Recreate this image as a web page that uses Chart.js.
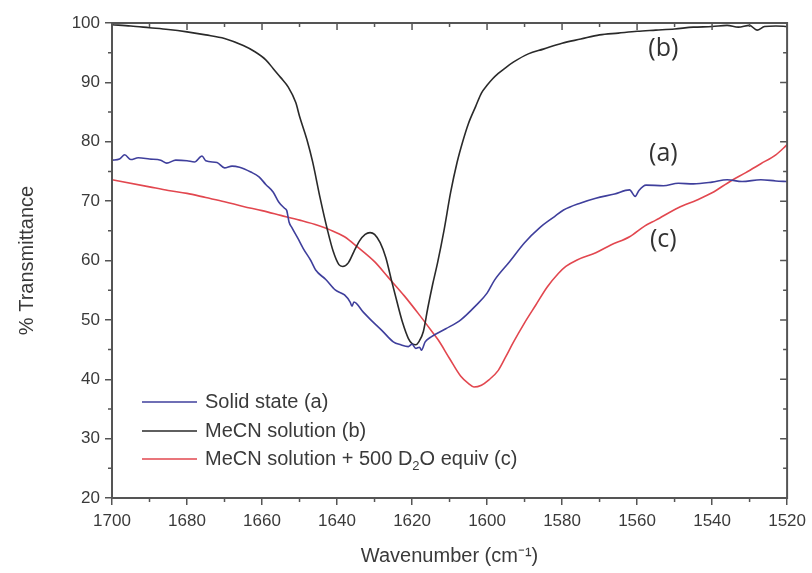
<!DOCTYPE html>
<html>
<head>
<meta charset="utf-8">
<script src="https://cdn.jsdelivr.net/npm/chart.js@4.4.1/dist/chart.umd.min.js"></script>
<style>
  html, body { margin: 0; padding: 0; background: #fff; }
  canvas { display: block; }
</style>
</head>
<body>
<canvas id="ir" width="812" height="573"></canvas>
<script>
// IR spectra, % transmittance vs wavenumber (cm-1)
const solidWave = [1700, 1698, 1696.6, 1695, 1693, 1690, 1687, 1685.4, 1683, 1680, 1678, 1676, 1675, 1672, 1670, 1668, 1666, 1663, 1660.8, 1659, 1657, 1655.5, 1654, 1653.4, 1652.8, 1652, 1650.5, 1649, 1647, 1645.7, 1643, 1640.4, 1638, 1636.5, 1636, 1635.5, 1633, 1631, 1628, 1625, 1623, 1621, 1620, 1619, 1618, 1617.5, 1616.5, 1615, 1611, 1607, 1603, 1600, 1598, 1594, 1590, 1586, 1582, 1579.6, 1575, 1571, 1566, 1562, 1560.5, 1559.5, 1557.6, 1553, 1549, 1545, 1540, 1536, 1532, 1527, 1523, 1520];
const solidT = [76.9, 77.1, 77.8, 77.0, 77.3, 77.1, 76.9, 76.4, 76.9, 76.8, 76.6, 77.6, 76.8, 76.5, 75.6, 75.9, 75.7, 74.9, 74.1, 72.8, 71.5, 69.8, 68.8, 68.4, 66.5, 65.5, 63.8, 62.0, 60.0, 58.4, 56.8, 55.0, 54.2, 53.0, 52.3, 53.0, 51.3, 50.0, 48.2, 46.3, 45.8, 45.5, 45.9, 45.2, 45.4, 44.9, 46.3, 47.1, 48.5, 50.0, 52.4, 54.5, 56.7, 59.8, 63.0, 65.5, 67.4, 68.5, 69.7, 70.5, 71.2, 71.9, 70.8, 71.8, 72.7, 72.6, 73.0, 72.9, 73.2, 73.6, 73.3, 73.6, 73.4, 73.3];

const mecnWave = [1700, 1695, 1690, 1685, 1680, 1675, 1670, 1665, 1662, 1659, 1657, 1655, 1653, 1651, 1650, 1648, 1646.5, 1644.5, 1642.5, 1641, 1639.5, 1638.5, 1637, 1635.5, 1634, 1632.5, 1631.2, 1630, 1628.5, 1627, 1625.5, 1624, 1622.5, 1621, 1620, 1619, 1618.2, 1617, 1615.8, 1614.5, 1613.2, 1611.5, 1609.7, 1608, 1606.5, 1605, 1603, 1601.5, 1600, 1598.5, 1597, 1595, 1593, 1589, 1585, 1580, 1575, 1570, 1565, 1560, 1555, 1550, 1545, 1540, 1536, 1533, 1530, 1528, 1526, 1523, 1520];
const mecnT = [99.7, 99.5, 99.2, 98.9, 98.5, 98.0, 97.4, 96.2, 95.2, 93.8, 92.3, 90.8, 89.2, 86.6, 84.3, 80.3, 76.6, 70.5, 65.0, 61.5, 59.3, 59.0, 59.6, 61.5, 63.3, 64.4, 64.7, 64.4, 63.0, 60.5, 56.7, 53.0, 49.5, 46.9, 46.0, 45.8, 46.3, 48.0, 52.0, 56.0, 59.6, 65.0, 71.5, 76.5, 80.0, 83.0, 86.0, 88.2, 89.5, 90.6, 91.5, 92.5, 93.4, 94.8, 95.6, 96.6, 97.3, 98.0, 98.3, 98.6, 98.8, 99.0, 99.3, 99.4, 99.6, 99.3, 99.6, 98.8, 99.4, 99.5, 99.4];

const d2oWave = [1700, 1690, 1685, 1680, 1675, 1670, 1665, 1660, 1655, 1650, 1645, 1642, 1638, 1634.4, 1630, 1626.4, 1622, 1618, 1615, 1613, 1610, 1607, 1605, 1603.5, 1601.5, 1599.5, 1597, 1595, 1593, 1590, 1587, 1584, 1581, 1579, 1576, 1571, 1567, 1562, 1558, 1555, 1549, 1544, 1540, 1535, 1531, 1527, 1523, 1520];
const d2oT = [73.6, 72.4, 71.8, 71.3, 70.6, 69.9, 69.1, 68.4, 67.6, 66.8, 65.9, 65.2, 64.0, 62.2, 59.8, 57.2, 54.0, 50.8, 48.3, 46.6, 43.5, 40.5, 39.3, 38.7, 39.0, 39.9, 41.5, 43.8, 46.2, 49.5, 52.5, 55.5, 57.8, 59.0, 60.1, 61.3, 62.6, 64.0, 65.8, 66.8, 68.9, 70.2, 71.4, 73.4, 74.8, 76.3, 77.8, 79.5];

const seriesNames = ['Solid state (a)', 'MeCN solution (b)', 'MeCN solution + 500 D\u2082O equiv (c)'];
const seriesColors = ['#3f3f9c', '#2a2a2a', '#e2474f'];

// curve tags written next to each trace: [text, wavenumber, %T]
const curveTags = [['(b)', 1553, 95.6], ['(a)', 1553, 78.0], ['(c)', 1553, 63.4]];

const xTicks = [1700, 1680, 1660, 1640, 1620, 1600, 1580, 1560, 1540, 1520];
const yTicks = [20, 30, 40, 50, 60, 70, 80, 90, 100];

function pts(xs, ys) {
  return xs.map((x, i) => ({ x: x, y: ys[i] }));
}

const axisColor = '#555';
const textColor = '#3a3a3a';

// minor ticks on all sides + mirrored major ticks on top and right, box frame
const frameTicks = {
  id: 'frameTicks',
  afterDraw(chart) {
    const ctx = chart.ctx;
    const a = chart.chartArea;
    const sx = chart.scales.x, sy = chart.scales.y;
    ctx.save();
    ctx.strokeStyle = axisColor;
    ctx.lineWidth = 1.5;
    ctx.beginPath();
    for (let v = 1520; v <= 1700; v += 10) {
      const px = sx.getPixelForValue(v);
      const len = (v % 20 === 0) ? 7 : 4;
      if (v % 20 !== 0) { ctx.moveTo(px, a.bottom); ctx.lineTo(px, a.bottom + len); }
      ctx.moveTo(px, a.top); ctx.lineTo(px, a.top + len);
    }
    for (let v = 20; v <= 100; v += 5) {
      const py = sy.getPixelForValue(v);
      const len = (v % 10 === 0) ? 7 : 4;
      if (v % 10 !== 0) { ctx.moveTo(a.left, py); ctx.lineTo(a.left - len, py); }
      ctx.moveTo(a.right, py); ctx.lineTo(a.right - len, py);
    }
    ctx.stroke();
    ctx.lineWidth = 2;
    ctx.strokeRect(a.left, a.top, a.right - a.left, a.bottom - a.top);
    ctx.restore();
  }
};

// legend inside the plot, with a real subscript in D2O
const innerLegend = {
  id: 'innerLegend',
  afterDraw(chart) {
    const ctx = chart.ctx;
    const a = chart.chartArea;
    const x0 = a.left + 30, x1 = a.left + 85, tx = a.left + 93;
    const rows = [a.bottom - 96, a.bottom - 67, a.bottom - 39];
    ctx.save();
    ctx.textBaseline = 'middle';
    ctx.fillStyle = textColor;
    seriesNames.forEach((name, i) => {
      ctx.strokeStyle = seriesColors[i];
      ctx.lineWidth = 1.5;
      ctx.beginPath();
      ctx.moveTo(x0, rows[i]);
      ctx.lineTo(x1, rows[i]);
      ctx.stroke();
      ctx.font = '20px "Liberation Sans", Arial, sans-serif';
      if (name.indexOf('\u2082') < 0) {
        ctx.fillText(name, tx, rows[i]);
      } else {
        const parts = name.split('\u2082');
        ctx.fillText(parts[0], tx, rows[i]);
        let w = ctx.measureText(parts[0]).width;
        ctx.font = '13px "Liberation Sans", Arial, sans-serif';
        ctx.fillText('2', tx + w, rows[i] + 7);
        w += ctx.measureText('2').width;
        ctx.font = '20px "Liberation Sans", Arial, sans-serif';
        ctx.fillText(parts[1], tx + w, rows[i]);
      }
    });
    ctx.font = '25px "Open Sans", sans-serif';
    ctx.textAlign = 'center';
    ctx.fillStyle = '#333';
    curveTags.forEach(t => {
      ctx.fillText(t[0], chart.scales.x.getPixelForValue(t[1]), chart.scales.y.getPixelForValue(t[2]));
    });
    ctx.restore();
  }
};

new Chart(document.getElementById('ir'), {
  type: 'line',
  data: {
    datasets: [
      { label: seriesNames[0], data: pts(solidWave, solidT), borderColor: seriesColors[0] },
      { label: seriesNames[1], data: pts(mecnWave, mecnT), borderColor: seriesColors[1] },
      { label: seriesNames[2], data: pts(d2oWave, d2oT), borderColor: seriesColors[2] }
    ]
  },
  options: {
    responsive: false,
    animation: false,
    layout: { padding: { top: 23, right: 20, left: 0, bottom: 0 } },
    elements: {
      point: { radius: 0 },
      line: { borderWidth: 1.6, cubicInterpolationMode: 'monotone' }
    },
    plugins: { legend: { display: false }, tooltip: { enabled: false } },
    scales: {
      x: {
        type: 'linear',
        reverse: true,
        min: 1520,
        max: 1700,
        afterBuildTicks: s => { s.ticks = xTicks.map(v => ({ value: v })); },
        afterFit: s => { s.height = 75; },
        grid: { drawOnChartArea: false, drawTicks: true, tickLength: 7, color: axisColor, lineWidth: 1.5 },
        border: { display: false },
        ticks: {
          padding: 6,
          color: textColor,
          font: { family: '"Liberation Sans", Arial, sans-serif', size: 17 },
          callback: v => String(v)
        },
        title: {
          display: true,
          text: 'Wavenumber (cm\u207B\u00B9)',
          color: textColor,
          font: { family: '"Liberation Sans", Arial, sans-serif', size: 20 },
          padding: { top: 0, bottom: 5 }
        }
      },
      y: {
        min: 20,
        max: 100,
        afterBuildTicks: s => { s.ticks = yTicks.map(v => ({ value: v })); },
        afterFit: s => { s.width = 112; },
        grid: { drawOnChartArea: false, drawTicks: true, tickLength: 7, color: axisColor, lineWidth: 1.5 },
        border: { display: false },
        ticks: { padding: 5, color: textColor, font: { family: '"Liberation Sans", Arial, sans-serif', size: 17 } },
        title: {
          display: true,
          text: '% Transmittance',
          color: textColor,
          font: { family: '"Liberation Sans", Arial, sans-serif', size: 20 },
          padding: { top: 15, bottom: 0 }
        }
      }
    }
  },
  plugins: [frameTicks, innerLegend]
});
</script>
</body>
</html>
